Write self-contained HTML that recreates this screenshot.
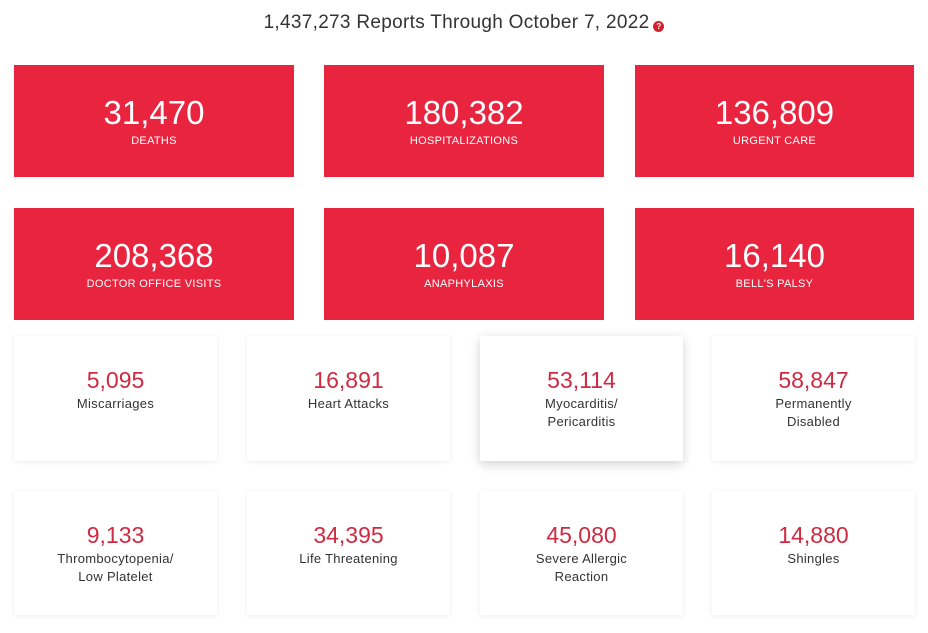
<!DOCTYPE html>
<html><head><meta charset="utf-8"><style>
*{margin:0;padding:0;box-sizing:border-box}
body{width:928px;height:633px;background:#fff;font-family:"Liberation Sans",sans-serif;position:relative;overflow:hidden}
.t{position:absolute;top:12px;left:0;width:928px;text-align:center;font-size:19px;color:#333;letter-spacing:0.3px}
.q{display:inline-block;width:11px;height:11px;border-radius:50%;background:#d61f2c;color:#fff;font-size:8px;line-height:11px;text-align:center;vertical-align:-1px;margin-left:4px;font-weight:bold}
.r{position:absolute;background:#e8243f;color:#fff;text-align:center}
.r b{display:block;font-weight:normal;font-size:33px;line-height:34px;margin-top:31px}
.r span{display:block;font-size:11px;margin-top:5px;letter-spacing:0.3px}
.c{position:absolute;background:#fff;box-shadow:0 1px 5px rgba(0,0,0,0.08);text-align:center;color:#333;width:203px}
.c b{display:block;font-weight:normal;font-size:23px;line-height:24px;color:#cf2a42;margin-top:32px}
.c span{display:block;font-size:13px;line-height:18px;margin-top:3px;letter-spacing:0.3px}
.h{box-shadow:0 3px 10px rgba(0,0,0,0.18)}
</style></head><body>
<div class="t">1,437,273 Reports Through October 7, 2022<span class="q">?</span></div>
<div class="r" style="left:14px;top:65px;width:280px;height:112px"><b>31,470</b><span>DEATHS</span></div>
<div class="r" style="left:324px;top:65px;width:280px;height:112px"><b>180,382</b><span>HOSPITALIZATIONS</span></div>
<div class="r" style="left:635px;top:65px;width:279px;height:112px"><b>136,809</b><span>URGENT CARE</span></div>
<div class="r" style="left:14px;top:208px;width:280px;height:112px"><b>208,368</b><span>DOCTOR OFFICE VISITS</span></div>
<div class="r" style="left:324px;top:208px;width:280px;height:112px"><b>10,087</b><span>ANAPHYLAXIS</span></div>
<div class="r" style="left:635px;top:208px;width:279px;height:112px"><b>16,140</b><span>BELL'S PALSY</span></div>
<div class="c" style="left:14px;top:336px;height:125px"><b>5,095</b><span>Miscarriages</span></div>
<div class="c" style="left:247px;top:336px;height:125px"><b>16,891</b><span>Heart Attacks</span></div>
<div class="c h" style="left:480px;top:336px;height:125px"><b>53,114</b><span>Myocarditis/<br>Pericarditis</span></div>
<div class="c" style="left:712px;top:336px;height:125px"><b>58,847</b><span>Permanently<br>Disabled</span></div>
<div class="c" style="left:14px;top:491px;height:124px"><b>9,133</b><span>Thrombocytopenia/<br>Low Platelet</span></div>
<div class="c" style="left:247px;top:491px;height:124px"><b>34,395</b><span>Life Threatening</span></div>
<div class="c" style="left:480px;top:491px;height:124px"><b>45,080</b><span>Severe Allergic<br>Reaction</span></div>
<div class="c" style="left:712px;top:491px;height:124px"><b>14,880</b><span>Shingles</span></div>
</body></html>
